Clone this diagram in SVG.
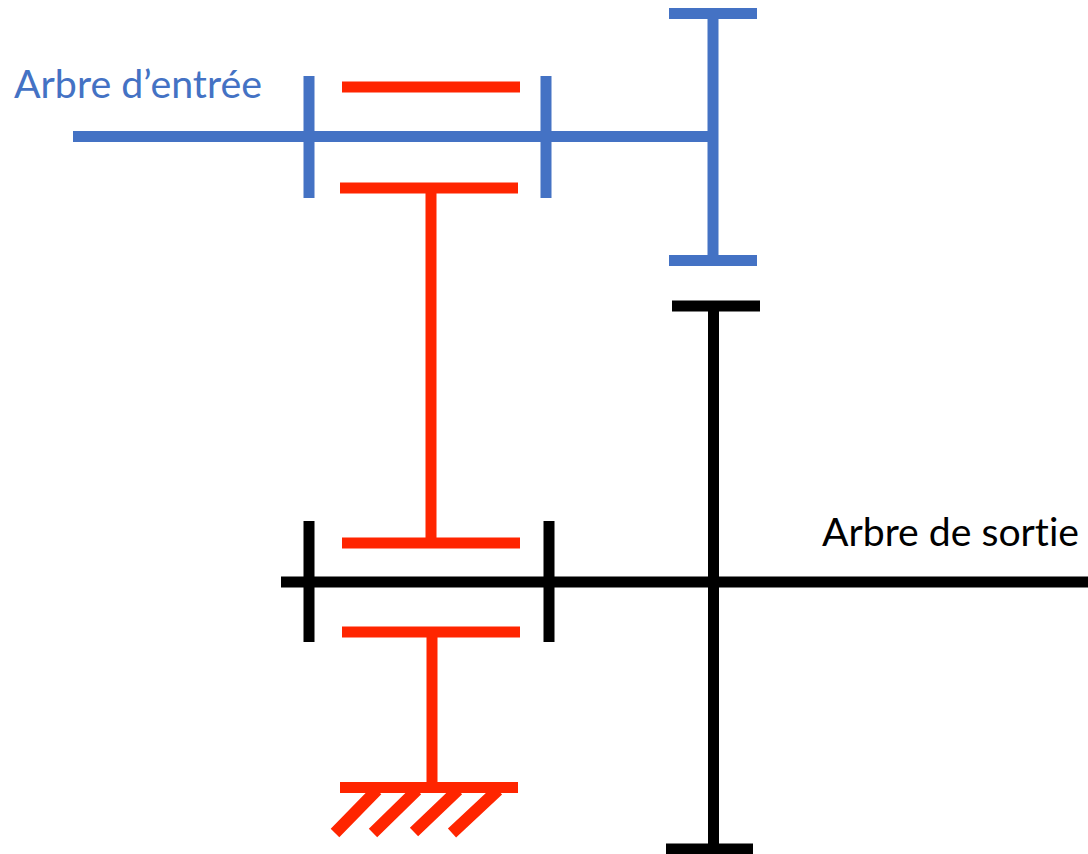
<svg xmlns="http://www.w3.org/2000/svg" width="1088" height="854" viewBox="0 0 1088 854">
<style>
.b{stroke:#4472c4;stroke-width:11;fill:none}
.r{stroke:#ff2500;stroke-width:11;fill:none}
.k{stroke:#000;stroke-width:11;fill:none}
.h{stroke-width:12}
text{font-family:"Lato","Open Sans","Liberation Sans",sans-serif;font-size:38px;font-variant-ligatures:none}
</style>
<rect width="1088" height="854" fill="#fff"/>
<g id="input-shaft">
<path class="b" d="M73 136.5H713M713 14V264M669 13.5H757M669 260.5H757M309 76V198M546 76V198"/>
<text x="14" y="98" fill="#4472c4" textLength="248" lengthAdjust="spacingAndGlyphs">Arbre d’entrée</text>
</g>
<g id="planet-carrier">
<path class="r" d="M342 87H520M340 188H518M431 188V543M342 543H520M342 632H520M432 632V787M340 787.5H518"/>
<path class="r h" d="M377 790L335 833M417 790L373 833M458 790L414 832M498 790L452 833"/>
</g>
<g id="output-shaft">
<path class="k" d="M281 582H1088M713.500 306V854M672 306H760M666 849H753M309 521V642M549 521V642"/>
<text x="822" y="546" fill="#000" textLength="257" lengthAdjust="spacingAndGlyphs">Arbre de sortie</text>
</g>
</svg>
